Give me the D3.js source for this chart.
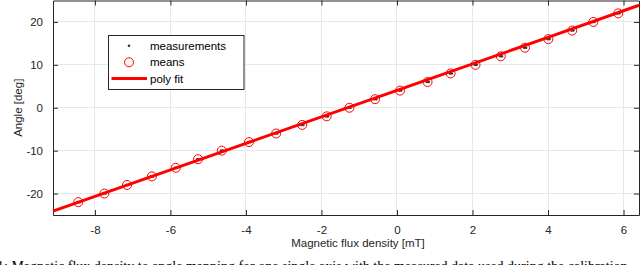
<!DOCTYPE html>
<html>
<head>
<meta charset="utf-8">
<script src="https://cdn.jsdelivr.net/npm/d3@7"></script>
<style>
  html, body { margin: 0; padding: 0; background: #fff; }
  svg { display: block; }
</style>
</head>
<body>
<svg id="chart" width="640" height="265"></svg>
<script>
// ---- data ----
const meanX = [-8.44, -7.75, -7.15, -6.49, -5.86, -5.27, -4.64, -3.92, -3.20, -2.51, -1.86, -1.26,
               -0.58, 0.08, 0.81, 1.42, 2.08, 2.75, 3.39, 4.01, 4.64, 5.20, 5.86];
const meanY = [-22, -20, -18, -16, -14, -12, -10, -8, -6, -4, -2, 0,
               2, 4, 6, 8, 10, 12, 14, 16, 18, 20, 22];
const measX = [-8.40, -8.46, -7.72, -7.78, -7.12, -7.17, -6.46, -6.51, -5.83, -5.88, -5.24, -5.29,
               -4.61, -4.66, -3.89, -3.94, -3.17, -3.22, -2.48, -2.53, -1.83, -1.88, -1.23, -1.28,
               -0.55, -0.60, 0.11, 0.06, 0.84, 0.79, 1.45, 1.40, 2.11, 2.06, 2.78, 2.73, 3.42, 3.37,
               4.04, 3.99, 4.67, 4.62, 5.23, 5.18, 5.89, 5.84];
const measY = [-22, -22, -20, -20, -18, -18, -16, -16, -14, -14, -12, -12,
               -10, -10, -8, -8, -6, -6, -4, -4, -2, -2, 0, 0,
               2, 2, 4, 4, 6, 6, 8, 8, 10, 10, 12, 12, 14, 14,
               16, 16, 18, 18, 20, 20, 22, 22];
const fitX = [-9.11, -4.0, 0.0, 4.0, 6.41];
const fitY = [-24.1, -8.3, 4.05, 16.4, 23.9];
const xTicks = [-8, -6, -4, -2, 0, 2, 4, 6];
const yTicks = [-20, -10, 0, 10, 20];
const legendLabels = ["measurements", "means", "poly fit"];
const xLabel = "Magnetic flux density [mT]";
const yLabel = "Angle [deg]";
const caption = "1: Magnetic flux density to angle mapping for one single axis with the measured data used during the calibration";

// ---- layout ----
const L = 53, R = 639, T = 0.5, B = 215;
const axisColor = "#262626";
const font = "'Liberation Sans', Arial, Helvetica, sans-serif";

const svg = d3.select("#chart");
const x = d3.scaleLinear().domain([-9.11, 6.41]).range([L, R]);
const y = d3.scaleLinear().domain([-25, 25]).range([B, T]);

// grid
const grid = svg.append("g");
grid.selectAll("line.gx").data(xTicks).join("line")
  .attr("x1", d => x(d)).attr("x2", d => x(d))
  .attr("y1", T).attr("y2", B)
  .attr("stroke", "#e8e8e8").attr("stroke-width", 1).attr("shape-rendering", "crispEdges");
grid.selectAll("line.gy").data(yTicks).join("line")
  .attr("x1", L).attr("x2", R)
  .attr("y1", d => y(d)).attr("y2", d => y(d))
  .attr("stroke", "#e8e8e8").attr("stroke-width", 1).attr("shape-rendering", "crispEdges");

// axes (ticks inward)
const axB = svg.append("g").attr("transform", `translate(0,${B})`)
  .call(d3.axisBottom(x).tickValues(xTicks).tickSizeInner(-5).tickSizeOuter(0).tickPadding(11).tickFormat(d => d3.format("d")(d).replace("−", "-")));
const axT = svg.append("g").attr("transform", `translate(0,${T})`)
  .call(d3.axisTop(x).tickValues(xTicks).tickSizeInner(-5).tickSizeOuter(0).tickFormat(""));
const axL = svg.append("g").attr("transform", `translate(${L},0)`)
  .call(d3.axisLeft(y).tickValues(yTicks).tickSizeInner(-5).tickSizeOuter(0).tickPadding(10).tickFormat(d => d3.format("d")(d).replace("−", "-")));
const axR = svg.append("g").attr("transform", `translate(${R},0)`)
  .call(d3.axisRight(y).tickValues(yTicks).tickSizeInner(-5).tickSizeOuter(0).tickFormat(""));
[axB, axT, axL, axR].forEach(a => {
  a.selectAll("path.domain").attr("stroke", axisColor).attr("stroke-width", 1);
  a.selectAll(".tick line").attr("stroke", axisColor);
  a.selectAll(".tick text").attr("fill", axisColor).style("font-family", font).style("font-size", "11.5px");
});

// measurements
svg.append("g").selectAll("circle").data(measX.map((v, i) => [v, measY[i]])).join("circle")
  .attr("cx", d => x(d[0])).attr("cy", d => y(d[1])).attr("r", 1.3).attr("fill", "#333");

// means
svg.append("g").selectAll("circle").data(meanX.map((v, i) => [v, meanY[i]])).join("circle")
  .attr("cx", d => x(d[0])).attr("cy", d => y(d[1])).attr("r", 4.5)
  .attr("fill", "none").attr("stroke", "#ff0000").attr("stroke-width", 1);

// fit line
const line = d3.line().x(d => x(d[0])).y(d => y(d[1]));
svg.append("path").datum(fitX.map((v, i) => [v, fitY[i]]))
  .attr("d", line).attr("fill", "none").attr("stroke", "#ff0000").attr("stroke-width", 3);

// axis labels
svg.append("text").attr("x", (L + R) / 2 + 12).attr("y", 247)
  .attr("text-anchor", "middle").attr("fill", axisColor)
  .style("font-family", font).style("font-size", "11.5px").text(xLabel);
svg.append("text").attr("transform", `translate(22,${(T + B) / 2}) rotate(-90)`)
  .attr("text-anchor", "middle").attr("fill", axisColor)
  .style("font-family", font).style("font-size", "11.5px").text(yLabel);

// legend
const lg = svg.append("g");
lg.append("rect").attr("x", 108.5).attr("y", 35.5).attr("width", 135.5).attr("height", 54)
  .attr("fill", "#fff").attr("stroke", axisColor).attr("stroke-width", 1);
const rowY = [45.7, 62.3, 78.5];
lg.append("circle").attr("cx", 129).attr("cy", rowY[0]).attr("r", 1.3).attr("fill", "#333");
lg.append("circle").attr("cx", 129).attr("cy", rowY[1]).attr("r", 4.5)
  .attr("fill", "none").attr("stroke", "#ff0000").attr("stroke-width", 1);
lg.append("line").attr("x1", 111.5).attr("x2", 147).attr("y1", rowY[2]).attr("y2", rowY[2])
  .attr("stroke", "#ff0000").attr("stroke-width", 3);
lg.selectAll("text").data(legendLabels).join("text")
  .attr("x", 150).attr("y", (d, i) => rowY[i] + 4)
  .attr("fill", "#000").style("font-family", font).style("font-size", "11.5px").text(d => d);

// caption (cut off at the bottom edge, as in the reference)
svg.append("text").attr("x", -3).attr("y", 271)
  .attr("fill", "#000").style("font-family", "'Liberation Serif', 'Times New Roman', serif")
  .style("font-size", "14px").text(caption);
</script>
</body>
</html>
